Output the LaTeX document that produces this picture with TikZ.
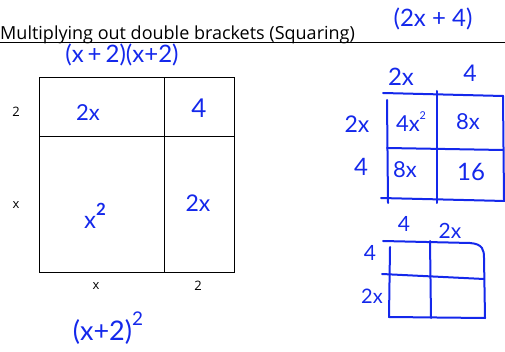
\documentclass[tikz,border=0pt]{standalone}
\usepackage{fontspec}
\setmainfont{Open Sans}
\newfontfamily\handfont{Lato}
\definecolor{pen}{RGB}{20,40,235}
\newcommand{\hsup}[1]{\raisebox{0.55em}{\scalebox{0.7}{#1}}}
\begin{document}
\begin{tikzpicture}[x=1pt,y=-1pt,
  hand/.style={text=pen,font=\handfont\fontsize{#1}{#1}\selectfont,inner sep=0pt},
  hand/.default=18,
  penline/.style={draw=pen,line width=2pt,line cap=round,line join=round},
  lab/.style={font=\fontsize{13}{13}\selectfont,inner sep=0pt},
  grid/.style={draw=black,line width=1pt}]
\useasboundingbox (0,0) rectangle (505,352);
% title
\node[anchor=base west,inner sep=0pt,font=\fontsize{18}{18}\selectfont] (title) at (0,40) {Multiplying out double brackets (Squaring)};
\draw[line width=0.8pt] (0,42) -- (505,42);
\node[hand=24] (tr) at (433,19) {(2x + 4)};
\node[hand=24,anchor=north] (prod) at (122,44) {(x\,+\,2)(x+2)};
% area model
\draw[grid] (39,78) rectangle (234,272);
\draw[grid] (164,78) -- (164,272);
\draw[grid] (39,137) -- (234,137);
\node[lab] (l2) at (16,112) {2};
\node[lab] (lx) at (16,205) {x};
\node[lab] (bx) at (96,286) {x};
\node[lab] (b2) at (198,286) {2};
\node[hand=22] (c2x) at (88,113) {2x};
\node[hand=26] (c4) at (199,108) {4};
\node[hand=24] (cx2) at (95,216) {x\hsup{\textbf{2}}};
\node[hand=23] (c2xb) at (198,203) {2x};
\node[hand=27] (sq) at (108,328) {(x+2)\hsup{2}};
% right table 1
\draw[penline] (383,93) -- (503,96);
\draw[penline] (387,100) -- (388,203);
\draw[penline] (437,91) -- (437,203);
\draw[penline] (387,148) -- (503,150);
\draw[penline] (381,198) -- (505,201);
\draw[penline] (503,96) -- (504,200);
\node[hand=24] (t2x) at (401,77) {2x};
\node[hand=23] (t4) at (470,73) {4};
\node[hand=23] (s2x) at (357,124) {2x};
\node[hand=24] (s4) at (361,167) {4};
\node[hand=22] (a1) at (411,122) {4x\hsup{\scalebox{0.7}{2}}};
\node[hand=22] (a2) at (468,122) {8x};
\node[hand=22] (a3) at (405,170) {8x};
\node[hand=24] (a4) at (471,172) {16};
% right table 2
\draw[penline] (383,241) -- (470,243) .. controls (483,244) and (484,250) .. (484,258) -- (485,318);
\draw[penline] (390,247) -- (389,317) -- (485,318);
\draw[penline] (430,241) -- (431,318);
\draw[penline] (382,274) -- (484,279);
\node[hand=21] (u4) at (404,224) {4};
\node[hand=21] (u2x) at (450,231) {2x};
\node[hand=21] (v4) at (370,253) {4};
\node[hand=20] (v2x) at (372,296) {2x};
\end{tikzpicture}
\end{document}
